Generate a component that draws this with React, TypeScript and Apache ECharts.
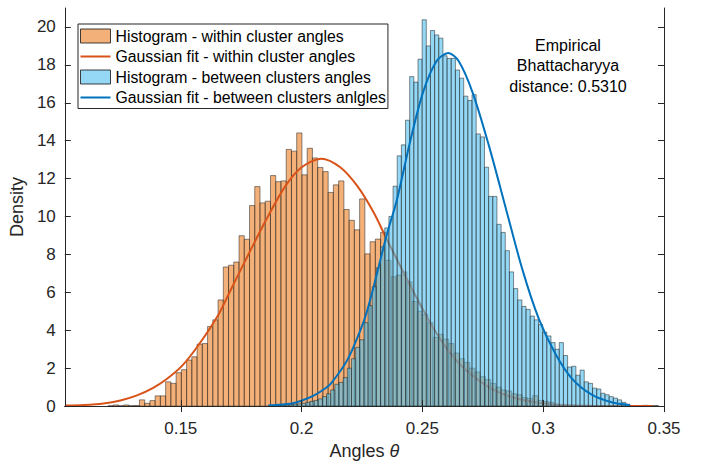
import React, { useEffect, useRef } from "react";
import * as echarts from "echarts";

// ---------- axes ----------
const X_MIN = 0.102;
const X_MAX = 0.35;
const Y_MIN = 0;
const Y_MAX = 21;
const X_TICKS = [0.15, 0.2, 0.25, 0.3, 0.35];
const Y_TICKS = [0, 2, 4, 6, 8, 10, 12, 14, 16, 18, 20];

// ---------- histogram: within cluster angles ----------
const WITHIN_BIN_START = 0.1025;
const WITHIN_BIN_WIDTH = 0.00217;
const WITHIN_DENSITY = [
  0.03, 0, 0, 0, 0, 0, 0, 0, 0.02, 0.06,
  0.02, 0.06, 0.02, 0.03, 0.33, 0.15, 0.29, 0.54, 0.54, 1.28,
  1.2, 1.76, 1.92, 2.43, 2.6, 3.27, 3.3, 4.2, 4.55, 5.6,
  7.34, 7.43, 7.6, 8.99, 8.8, 10.58, 11.58, 10.72, 10.81, 12.16,
  11.84, 11.88, 13.54, 13.45, 14.41, 12.2, 13.6, 13.09, 12.59, 12.37,
  11.27, 11.67, 11.88, 10.37, 9.8, 9.3, 10.93, 8.03, 8.67, 8.81,
  9.16, 7.69, 6.82, 6.91, 7.08, 6.56, 5.52, 5.0, 4.83, 4.4,
  3.62, 3.79, 3.53, 3.3, 2.8, 2.5, 2.3, 2.0, 1.8, 1.55,
  1.4, 1.2, 1.0, 0.85, 0.8, 0.65, 0.6, 0.45, 0.4, 0.55,
  0.3, 0.25, 0.2, 0.1, 0.08, 0.05, 0.04, 0.03, 0.02, 0.02,
  0.02, 0, 0.02, 0, 0, 0.01, 0, 0, 0.03, 0.02,
  0.04, 0.02, 0.03,
];

// ---------- histogram: between clusters angles ----------
const BETWEEN_BIN_START = 0.18626;
const BETWEEN_BIN_WIDTH = 0.00172;
const BETWEEN_DENSITY = [
  0.02, 0.03, 0.03, 0.05, 0.06, 0.08, 0.1, 0.12, 0.15, 0.2,
  0.25, 0.3, 0.38, 0.5, 0.65, 0.85, 1.15, 1.25, 1.5, 2.0,
  2.5, 3.1, 3.5, 4.4, 5.3, 6.3, 7.3, 8.4, 9.4, 10.0,
  11.6, 13.2, 13.78, 15.08, 17.38, 17.09, 18.3, 20.38, 19.0, 19.81,
  19.58, 19.41, 18.48, 18.34, 18.34, 17.73, 17.3, 16.35, 16.12, 16.43,
  14.36, 14.2, 12.6, 11.06, 11.06, 9.59, 9.16, 8.2, 7.08, 6.2,
  5.6, 5.26, 5.1, 4.75, 4.55, 4.3, 3.9, 3.7, 3.35, 3.0,
  3.35, 2.67, 2.06, 2.1, 1.63, 1.9, 1.28, 1.2, 0.95, 0.9,
  0.68, 0.6, 0.5, 0.42, 0.33, 0.2, 0.1,
];

// ---------- Gaussian fits ----------
const WITHIN_FIT_X = [
  0.1022, 0.11, 0.118, 0.125, 0.1316, 0.1384, 0.1439, 0.1507, 0.1575, 0.1657,
  0.1698, 0.1766, 0.1848, 0.193, 0.2, 0.2081, 0.216, 0.2231, 0.2299, 0.2347,
  0.2422, 0.2504, 0.2573, 0.2655, 0.2777, 0.2875, 0.2982, 0.31, 0.32, 0.345,
];
const WITHIN_FIT_Y = [
  0.03, 0.06, 0.14, 0.3, 0.55, 0.95, 1.4, 2.15, 3.25, 4.85,
  5.9, 7.65, 9.7, 11.55, 12.6, 13.05, 12.6, 11.6, 10.2, 8.95,
  7.05, 5.05, 3.55, 2.2, 0.98, 0.45, 0.17, 0.05, 0.02, 0.0,
];
const BETWEEN_FIT_X = [
  0.1862, 0.1958, 0.1999, 0.2050, 0.2094, 0.2122, 0.219, 0.2258, 0.2286, 0.2354,
  0.2395, 0.245, 0.2504, 0.2559, 0.2607, 0.2650, 0.2709, 0.2777, 0.2846, 0.2914,
  0.2982, 0.3051, 0.3119, 0.3201, 0.3283, 0.3359,
];
const BETWEEN_FIT_Y = [
  0.03, 0.14, 0.28, 0.55, 0.9, 1.2, 2.45, 4.5, 5.7, 9.1,
  10.9, 14.0, 16.6, 18.2, 18.63, 18.2, 16.5, 13.66, 10.4, 7.2,
  4.6, 2.75, 1.45, 0.6, 0.2, 0.05,
];

const NAMES = [
  "Histogram - within cluster angles",
  "Gaussian fit - within cluster angles",
  "Histogram - between clusters angles",
  "Gaussian fit - between clusters anlgles",
];

const FONT = '"Liberation Sans", Arial, Helvetica, sans-serif';
const AXIS_COLOR = "#262626";
const ORANGE_FILL = "rgba(235,124,30,0.6)";
const BLUE_FILL = "rgba(77,190,238,0.6)";
const EDGE = "rgba(30,30,30,0.85)";
const ORANGE_LINE = "#D95319";
const BLUE_LINE = "#0072BD";
const LINE_ICON = "path://M0,0L30,0L30,2L0,2Z";

function binData(start: number, width: number, values: number[]) {
  return values.map((v, i) => [start + i * width, start + (i + 1) * width, v]);
}

function makeRender(fill: string) {
  return (params: any, api: any) => {
    const h = api.value(2);
    if (!h) return null;
    const a = api.coord([api.value(0), h]);
    const b = api.coord([api.value(1), 0]);
    return {
      type: "rect",
      shape: { x: a[0], y: a[1], width: b[0] - a[0], height: b[1] - a[1] },
      style: { fill, stroke: EDGE, lineWidth: 0.6 },
    };
  };
}

export default function App() {
  const ref = useRef<HTMLDivElement>(null);
  useEffect(() => {
    if (!ref.current) return;
    const chart = echarts.init(ref.current, undefined, { renderer: "svg" });
    const axisLine = { show: true, lineStyle: { color: AXIS_COLOR, width: 1 } };
    const option: any = {
      animation: false,
      backgroundColor: "#ffffff",
      grid: { left: 61, right: 46, top: 8, bottom: 52, containLabel: false },
      legend: {
        orient: "vertical",
        left: 78,
        top: 24,
        padding: [4, 2, 3, 2],
        itemGap: 4.5,
        itemWidth: 30,
        itemHeight: 14,
        symbolKeepAspect: true,
        backgroundColor: "#ffffff",
        borderColor: AXIS_COLOR,
        borderWidth: 1,
        borderRadius: 0,
        selectedMode: false,
        textStyle: { fontSize: 15.8, fontFamily: FONT, color: "#000000" },
        data: [
          { name: NAMES[0], icon: "rect", itemStyle: { color: ORANGE_FILL, borderColor: EDGE, borderWidth: 1 } },
          { name: NAMES[1], icon: LINE_ICON, itemStyle: { color: ORANGE_LINE, borderWidth: 0 } },
          { name: NAMES[2], icon: "rect", itemStyle: { color: BLUE_FILL, borderColor: EDGE, borderWidth: 1 } },
          { name: NAMES[3], icon: LINE_ICON, itemStyle: { color: BLUE_LINE, borderWidth: 0 } },
        ],
      },
      xAxis: [
        {
          type: "value",
          position: "bottom",
          min: X_MIN,
          max: X_MAX,
          z: 10,
          axisLine,
          splitLine: { show: false },
          axisTick: { show: true, inside: true, length: 6, customValues: X_TICKS, lineStyle: { color: AXIS_COLOR } },
          axisLabel: {
            customValues: X_TICKS,
            fontSize: 17,
            fontFamily: FONT,
            color: AXIS_COLOR,
            margin: 14,
            formatter: (v: number) => String(v),
          },
          name: "Angles {i|θ}",
          nameLocation: "middle",
          nameGap: 35,
          nameTextStyle: {
            fontSize: 18,
            fontFamily: FONT,
            color: AXIS_COLOR,
            rich: { i: { fontStyle: "italic", fontSize: 18, fontFamily: FONT, color: AXIS_COLOR } },
          },
        },
        {
          type: "value",
          position: "top",
          min: X_MIN,
          max: X_MAX,
          z: 10,
          axisLine,
          splitLine: { show: false },
          axisTick: { show: true, inside: true, length: 6, customValues: X_TICKS, lineStyle: { color: AXIS_COLOR } },
          axisLabel: { show: false },
        },
      ],
      yAxis: [
        {
          type: "value",
          position: "left",
          min: Y_MIN,
          max: Y_MAX,
          z: 10,
          axisLine,
          splitLine: { show: false },
          axisTick: { show: true, inside: true, length: 6, customValues: Y_TICKS, lineStyle: { color: AXIS_COLOR } },
          axisLabel: { customValues: Y_TICKS, fontSize: 17, fontFamily: FONT, color: AXIS_COLOR, margin: 9 },
          name: "Density",
          nameLocation: "middle",
          nameGap: 25,
          nameTextStyle: { fontSize: 18, fontFamily: FONT, color: AXIS_COLOR },
        },
        {
          type: "value",
          position: "right",
          min: Y_MIN,
          max: Y_MAX,
          z: 10,
          axisLine,
          splitLine: { show: false },
          axisTick: { show: true, inside: true, length: 6, customValues: Y_TICKS, lineStyle: { color: AXIS_COLOR } },
          axisLabel: { show: false },
        },
      ],
      series: [
        {
          type: "custom",
          name: NAMES[0],
          xAxisIndex: 0,
          yAxisIndex: 0,
          z: 2,
          clip: true,
          itemStyle: { color: ORANGE_FILL },
          encode: { x: [0, 1], y: 2 },
          data: binData(WITHIN_BIN_START, WITHIN_BIN_WIDTH, WITHIN_DENSITY),
          renderItem: makeRender(ORANGE_FILL),
        },
        {
          type: "line",
          name: NAMES[1],
          xAxisIndex: 0,
          yAxisIndex: 0,
          z: 3,
          smooth: 0.3,
          symbol: "none",
          clip: true,
          color: ORANGE_LINE,
          lineStyle: { color: ORANGE_LINE, width: 2 },
          data: WITHIN_FIT_X.map((x, i) => [x, WITHIN_FIT_Y[i]]),
        },
        {
          type: "custom",
          name: NAMES[2],
          xAxisIndex: 0,
          yAxisIndex: 0,
          z: 4,
          clip: true,
          itemStyle: { color: BLUE_FILL },
          encode: { x: [0, 1], y: 2 },
          data: binData(BETWEEN_BIN_START, BETWEEN_BIN_WIDTH, BETWEEN_DENSITY),
          renderItem: makeRender(BLUE_FILL),
        },
        {
          type: "line",
          name: NAMES[3],
          xAxisIndex: 0,
          yAxisIndex: 0,
          z: 5,
          smooth: 0.3,
          symbol: "none",
          clip: true,
          color: BLUE_LINE,
          lineStyle: { color: BLUE_LINE, width: 2 },
          data: BETWEEN_FIT_X.map((x, i) => [x, BETWEEN_FIT_Y[i]]),
        },
      ],
      graphic: [
        {
          type: "text",
          x: 568,
          y: 35.5,
          z: 20,
          style: {
            text: "Empirical\nBhattacharyya\ndistance: 0.5310",
            fill: "#000000",
            fontSize: 16,
            fontFamily: FONT,
            align: "center",
            verticalAlign: "top",
            lineHeight: 20.3,
          },
        },
      ],
    };
    chart.setOption(option);
    return () => chart.dispose();
  }, []);
  return (
    <div
      ref={ref}
      style={{ position: "fixed", left: 0, top: 0, width: 710, height: 465, background: "#ffffff" }}
    />
  );
}
